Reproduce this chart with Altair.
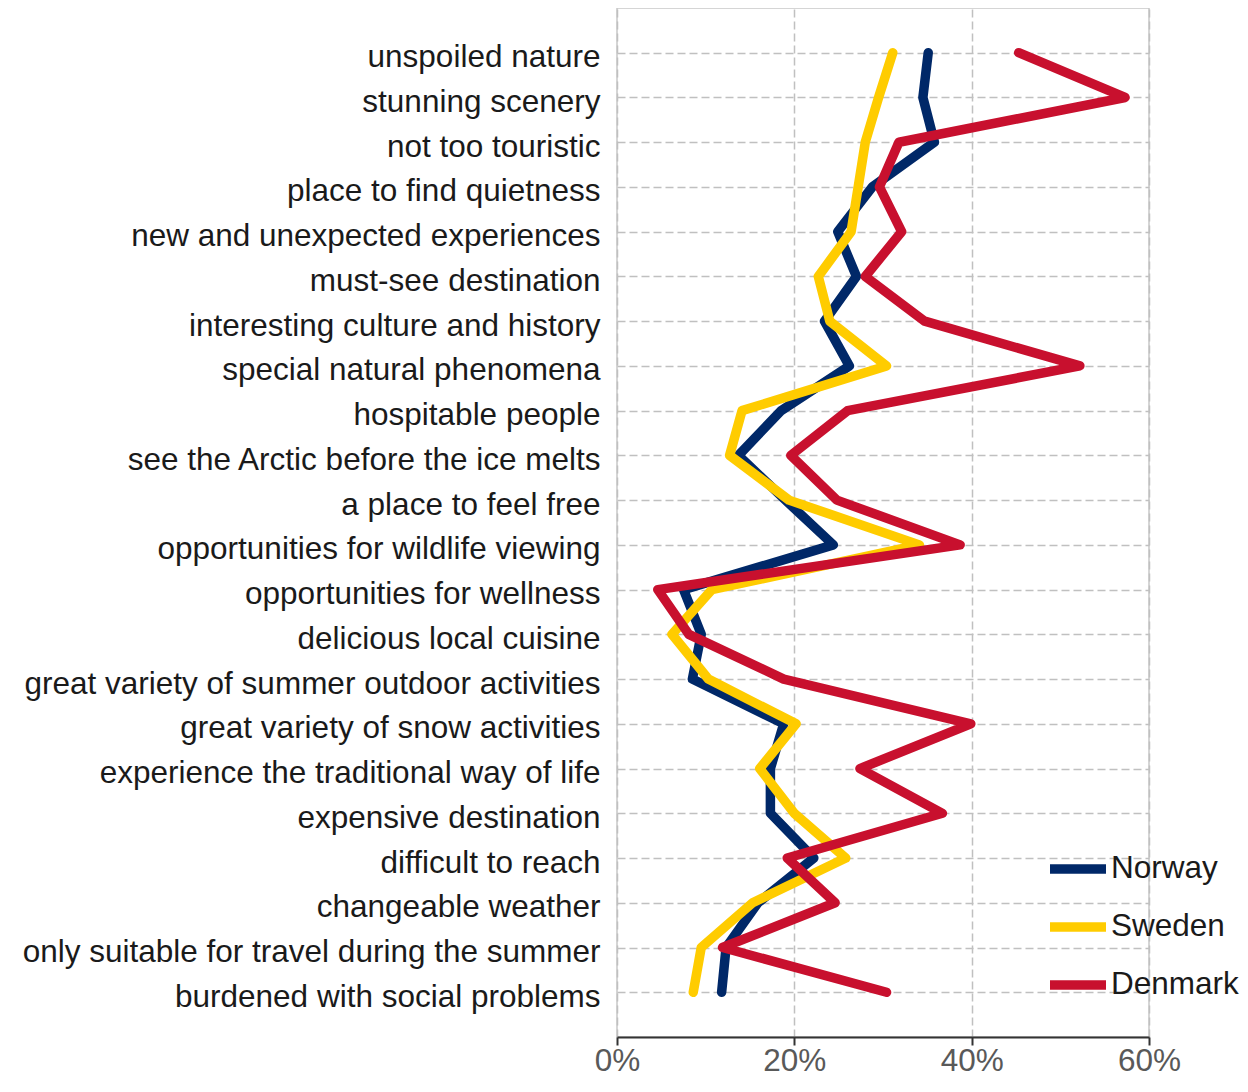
import altair as alt
import pandas as pd

categories = [
    "unspoiled nature",
    "stunning scenery",
    "not too touristic",
    "place to find quietness",
    "new and unexpected experiences",
    "must-see destination",
    "interesting culture and history",
    "special natural phenomena",
    "hospitable people",
    "see the Arctic before the ice melts",
    "a place to feel free",
    "opportunities for wildlife viewing",
    "opportunities for wellness",
    "delicious local cuisine",
    "great variety of summer outdoor activities",
    "great variety of snow activities",
    "experience the traditional way of life",
    "expensive destination",
    "difficult to reach",
    "changeable weather",
    "only suitable for travel during the summer",
    "burdened with social problems",
]
countries = ["Norway", "Sweden", "Denmark"]
norway = [35.1, 34.5, 35.8, 28.8, 24.9, 27.0, 23.4, 26.2, 18.5, 13.7, 19.0,
          24.4, 7.5, 9.5, 8.5, 18.8, 17.3, 17.3, 22.2, 15.9, 12.3, 11.8]
sweden = [31.1, 29.5, 28.0, 27.2, 26.4, 22.7, 24.0, 30.4, 14.1, 12.7, 19.4,
          34.1, 10.7, 6.2, 10.3, 20.2, 16.1, 20.0, 25.8, 15.3, 9.5, 8.6]
denmark = [45.3, 57.3, 31.8, 29.6, 32.1, 28.0, 34.7, 52.2, 26.0, 19.6, 24.8,
           38.7, 4.6, 8.1, 18.8, 39.9, 27.4, 36.7, 19.2, 24.6, 11.9, 30.4]
colors = ["#002868", "#FFCC00", "#C8102E"]
x_ticks = [0, 0.2, 0.4, 0.6]

rows = []
for country, vals in zip(countries, [norway, sweden, denmark]):
    for i, (cat, v) in enumerate(zip(categories, vals)):
        rows.append({"country": country, "attr": cat, "value": v / 100, "idx": i})
df = pd.DataFrame(rows)

FONT = "Liberation Sans"
FS = 31.5

chart = alt.Chart(df).mark_line(
    strokeWidth=9.5, strokeCap="round", strokeJoin="round"
).encode(
    x=alt.X(
        "value:Q",
        scale=alt.Scale(domain=[0, 0.6], nice=False, zero=True),
        axis=alt.Axis(
            format="%", values=x_ticks, title=None,
            labelFontSize=FS, labelFont=FONT, labelColor="#595959",
            labelFlush=False, labelOverlap=False, labelPadding=0,
            domainColor="#333333", domainWidth=2,
            tickColor="#333333", tickWidth=2, tickSize=8,
            grid=True, gridDash=[8, 4], gridColor="#c0c0c0", gridWidth=1.5,
        ),
    ),
    y=alt.Y(
        "attr:N", sort=categories,
        scale=alt.Scale(type="point", padding=1),
        axis=alt.Axis(
            title=None, domain=False, ticks=False,
            labelFontSize=FS, labelFont=FONT, labelColor="#1a1a1a",
            labelPadding=17, labelLimit=800, labelOffset=5,
            grid=True, gridDash=[8, 4], gridColor="#c0c0c0", gridWidth=1.5,
        ),
    ),
    color=alt.Color(
        "country:N",
        scale=alt.Scale(domain=countries, range=colors),
        legend=alt.Legend(
            title=None, orient="none", legendX=428, legendY=828,
            symbolType="stroke", symbolSize=3136, symbolStrokeWidth=9.5,
            labelFontSize=FS, labelFont=FONT, labelColor="#1a1a1a",
            rowPadding=6, labelOffset=0,
        ),
    ),
    order="idx:Q",
).properties(
    width=532,
    height=1029,
    autosize=alt.AutoSizeParams(type="none"),
    padding={"left": 609, "top": 0, "right": 91, "bottom": 40},
).configure_view(
    stroke="#c8c8c8", strokeWidth=1.5
)

chart.save("out.html", embed_options={"renderer": "svg", "actions": False})
